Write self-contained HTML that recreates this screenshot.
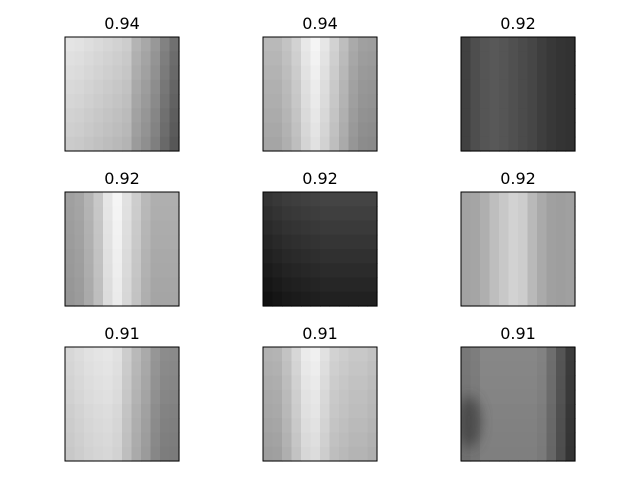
<!DOCTYPE html>
<html><head><meta charset="utf-8"><style>
body{margin:0;background:#fff;}
svg{display:block;font-family:"DejaVu Sans","Liberation Sans",sans-serif;}
</style></head><body>
<svg id="chart" width="640" height="480" viewBox="0 0 640 480">
<defs>
<filter id="blur" x="-50%" y="-50%" width="200%" height="200%"><feGaussianBlur stdDeviation="6"/></filter>
<clipPath id="clip9"><rect x="461" y="347" width="114" height="114"/></clipPath>
</defs>
</svg>
<script>
const titles = ["0.94","0.94","0.92","0.92","0.92","0.92","0.91","0.91","0.91"];
const p1 = [228,226,222,218,214,210,205,180,168,152,130,112];
const p2 = [185,185,195,210,232,245,230,210,190,170,160,158];
const p3 = [65,78,85,88,85,80,75,70,62,56,52,50];
const p4 = [160,165,180,200,230,245,225,205,185,175,175,175];
const p5 = [52,56,60,62,64,66,68,68,68,68,68,68];
const p6 = [162,165,175,190,200,210,205,185,170,160,158,160];
const p7 = [215,220,225,228,230,225,205,185,170,150,140,138];
const p8 = [178,180,195,215,235,240,225,210,205,200,200,195];
const p9 = [120,125,135,135,135,135,135,135,130,110,85,60];
const deltas = [-25,-20,0,-10,-35,0,-15,-20,-8];
const panels = [p1,p2,p3,p4,p5,p6,p7,p8,p9];
const NS="http://www.w3.org/2000/svg";
const svg=document.getElementById('chart');
const colX=[65,263,461], rowY=[37,192,347], S=114;
function g(v){v=Math.max(0,Math.min(255,Math.round(v)));return `rgb(${v},${v},${v})`;}
panels.forEach((cols,i)=>{
  const x0=colX[i%3], y0=rowY[Math.floor(i/3)];
  const grp=document.createElementNS(NS,'g');
  
  
  const cw=S/cols.length, rows=8, rh=S/rows;
  cols.forEach((v,c)=>{
    for(let r=0;r<rows;r++){
      const rect=document.createElementNS(NS,'rect');
      
      
      rect.setAttribute('x',x0+c*cw);rect.setAttribute('y',y0+r*rh);
      rect.setAttribute('width',cw+0.6);rect.setAttribute('height',rh+0.6);
      rect.setAttribute('fill',g(v+deltas[i]*r/(rows-1)));
      grp.appendChild(rect);
    }
  });
  if(i===8){
    const patch=document.createElementNS(NS,'ellipse');
    
    
    patch.setAttribute('cx',x0+8);patch.setAttribute('cy',y0+75);
    patch.setAttribute('rx',12);patch.setAttribute('ry',26);
    patch.setAttribute('fill','rgb(60,60,60)');patch.setAttribute('opacity','0.75');
    patch.setAttribute('filter','url(#blur)');
    patch.setAttribute('clip-path','url(#clip9)');
    grp.appendChild(patch);
  }
  const border=document.createElementNS(NS,'rect');
  
  
  border.setAttribute('x',x0);border.setAttribute('y',y0);
  border.setAttribute('width',S);border.setAttribute('height',S);
  border.setAttribute('fill','none');border.setAttribute('stroke','#000');border.setAttribute('stroke-width','1');
  grp.appendChild(border);
  const t=document.createElementNS(NS,'text');
  
  
  t.setAttribute('x',x0+S/2);t.setAttribute('y',y0-8);
  t.setAttribute('text-anchor','middle');t.setAttribute('font-size','16');
  t.textContent=titles[i];
  grp.appendChild(t);
  svg.appendChild(grp);
});
</script>
</body></html>
